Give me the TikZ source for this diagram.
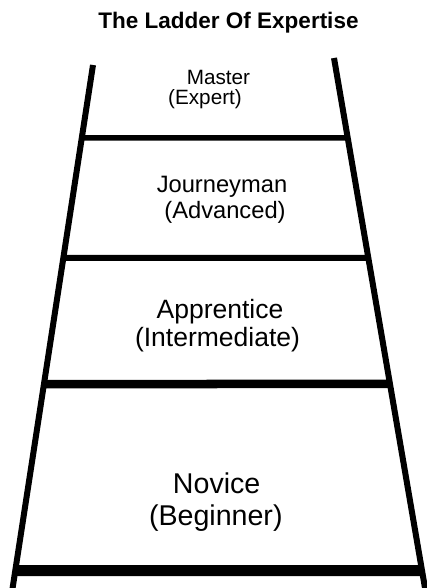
\documentclass[tikz,border=0pt]{standalone}
\usepackage{fontspec}
\setmainfont{Liberation Sans}
\usetikzlibrary{calc}

\begin{document}
\begin{tikzpicture}[x=1pt,y=-1pt,
  rail/.style={line width=6pt},
  rung/.style={line width=#1},
  lvl/.style={anchor=base,inner sep=0pt,font=\fontsize{#1}{#1}\selectfont}]
\useasboundingbox (0,0) rectangle (427,588);
\clip (0,0) rectangle (427,588);

\coordinate (lt) at (93,65);
\coordinate (lb) at (12.6,588);
\coordinate (rt) at (334,58);
\coordinate (rb) at (425,588);

\node[lvl=22.5,font=\bfseries\fontsize{22.5}{27}\selectfont] (title) at (228.5,28.5) {The Ladder Of Expertise};

\node[lvl=20.7] (master) at (218.5,85) {Master};
\node[lvl=20.7] (expert) at (205,105) {(Expert)};
\node[lvl=23.7] (journeyman) at (222,192) {Journeyman};
\node[lvl=23.7] (advanced) at (225,218) {(Advanced)};
\node[lvl=26.5] (apprentice) at (220,318) {Apprentice};
\node[lvl=26.5] (intermediate) at (217.5,346.5) {(Intermediate)};
\node[lvl=28.6] (novice) at (216.7,493.5) {Novice};
\node[lvl=28.6] (beginner) at (215.8,525) {(Beginner)};

% rungs
\draw[rung=5.5pt] ($(lt)!{(138-65)/523}!(lb)$) -- ($(rt)!{(138-58)/530}!(rb)$);
\draw[rung=6pt] ($(lt)!{(258-65)/523}!(lb)$) -- ($(rt)!{(258-58)/530}!(rb)$);
\draw[rung=8.5pt] ($(lt)!{(384-65)/523}!(lb)$) -- ($(rt)!{(384-58)/530}!(rb)$);
\draw[rung=11pt] ($(lt)!{(570.5-65)/523}!(lb)$) -- ($(rt)!{(570.5-58)/530}!(rb)$);

% rails
\draw[rail] (lt) -- ($(lt)!1.05!(lb)$);
\draw[rail] (rt) -- ($(rt)!1.05!(rb)$);

\end{tikzpicture}
\end{document}
